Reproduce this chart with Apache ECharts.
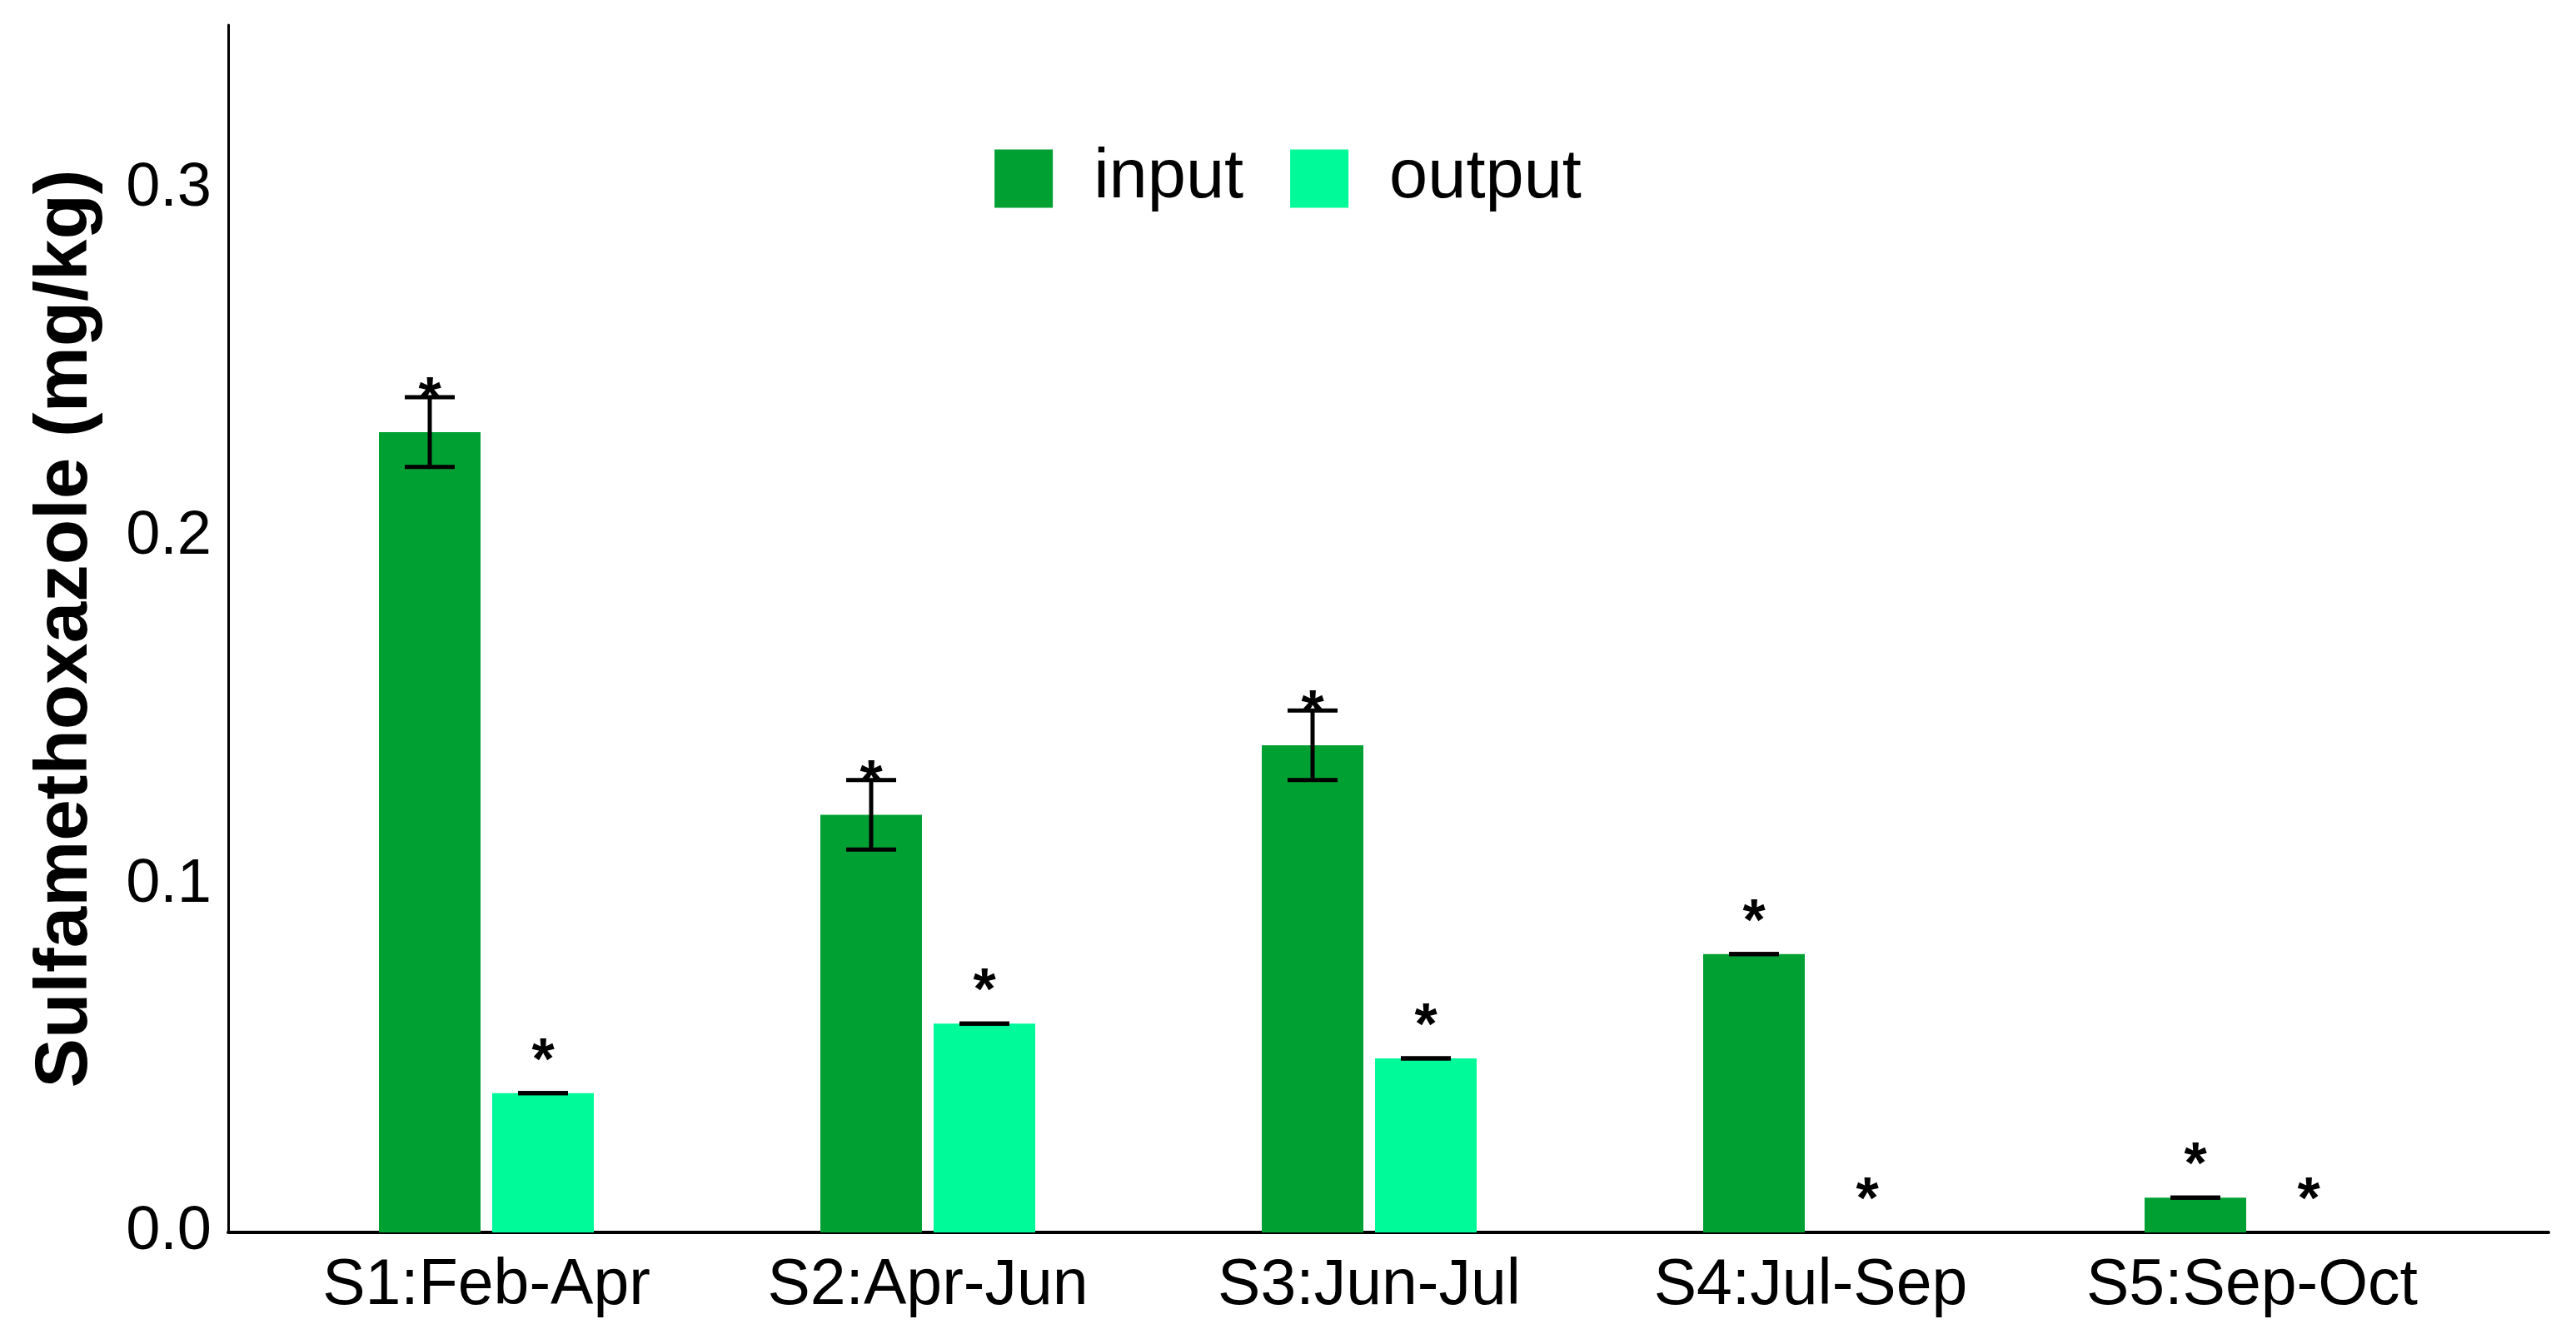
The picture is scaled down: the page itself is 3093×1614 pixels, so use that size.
<!DOCTYPE html>
<html><head><meta charset="utf-8">
<script src="https://cdn.jsdelivr.net/npm/echarts@6/dist/echarts.min.js"></script>
<style>html,body{margin:0;padding:0;background:#fff}#c{width:3093px;height:1614px}</style>
</head><body><div id="c"></div>
<script>
const categories = ['S1:Feb-Apr','S2:Apr-Jun','S3:Jun-Jul','S4:Jul-Sep','S5:Sep-Oct'];
const inputVals = [0.23, 0.12, 0.14, 0.08, 0.01];
const inputErr = [0.01, 0.01, 0.01, 0, 0];
const outputVals = [0.04, 0.06, 0.05, 0, 0];
const outputErr = [0, 0, 0, 0, 0];
const yTicks = [0, 0.1, 0.2, 0.3];
const starOffset = 0.012;

const BW = 122, GAP = 14;
function errSeries(vals, errs, side) {
  return {
    type: 'custom', xAxisIndex: 0, yAxisIndex: 0, z: 10,
    data: vals.map((v, i) => [i, v, errs[i]]),
    renderItem: function (params, api) {
      const i = api.value(0), v = api.value(1), e = api.value(2);
      const c = api.coord([i, v]);
      const x = c[0] + side * (BW + GAP) / 2;
      const hi = api.coord([i, v + e])[1], lo = api.coord([i, v - e])[1];
      const sy = api.coord([i, v + starOffset])[1];
      const cw = 30;
      const st = {stroke: '#000', lineWidth: 5};
      const ch = [];
      if (v > 0) {
        ch.push({type: 'line', shape: {x1: x, y1: hi, x2: x, y2: lo}, style: st});
        ch.push({type: 'line', shape: {x1: x - cw, y1: hi, x2: x + cw, y2: hi}, style: st});
        ch.push({type: 'line', shape: {x1: x - cw, y1: lo, x2: x + cw, y2: lo}, style: st});
      }
      ch.push({type: 'text', style: {x: x, y: sy + 14, text: '*', fill: '#000',
        font: 'bold 70px "Liberation Sans", Arial', align: 'center', verticalAlign: 'middle'}});
      return {type: 'group', children: ch};
    }
  };
}

const chart = echarts.init(document.getElementById('c'));
chart.setOption({
  animation: false,
  textStyle: {fontFamily: '"Liberation Sans", Arial'},
  legend: {
    top: 168, left: 'center', itemWidth: 70, itemHeight: 70, itemGap: 56,
    icon: 'rect',
    textStyle: {fontSize: 83, color: '#000', padding: [0, 0, 0, 44]},
    data: ['input', 'output']
  },
  grid: [
    {left: 319, right: 124, top: 30, bottom: 134},
    {left: 274, right: 33, top: 30, bottom: 134}
  ],
  xAxis: [
    {type: 'category', gridIndex: 0, data: categories,
      axisLine: {show: false}, axisTick: {show: false},
      axisLabel: {fontSize: 77, color: '#000', margin: 26}},
    {type: 'value', gridIndex: 1, min: 0, max: 1, axisLabel: {show: false},
      axisTick: {show: false}, splitLine: {show: false},
      axisLine: {show: true, lineStyle: {color: '#000', width: 4}}}
  ],
  yAxis: [
    {type: 'value', gridIndex: 0, min: 0, max: 0.347, interval: 0.1, show: false, splitLine: {show: false}},
    {type: 'value', gridIndex: 1, min: 0, max: 0.347, interval: 0.1,
      name: 'Sulfamethoxazole (mg/kg)', nameLocation: 'middle', nameGap: 150,
      nameTextStyle: {fontSize: 89, fontWeight: 'bold', color: '#000'},
      axisLine: {show: true, lineStyle: {color: '#000', width: 3}},
      axisTick: {show: false}, splitLine: {show: false},
      axisLabel: {fontSize: 74, color: '#000', margin: 20, showMaxLabel: false,
        formatter: v => yTicks.some(t => Math.abs(t - v) < 1e-9) ? v.toFixed(1) : ''}}
  ],
  series: [
    {name: 'input', type: 'bar', data: inputVals, barWidth: BW, barGap: (GAP / BW * 100) + '%',
      itemStyle: {color: '#00A033'}},
    {name: 'output', type: 'bar', data: outputVals, barWidth: BW,
      itemStyle: {color: '#00FA9A'}},
    errSeries(inputVals, inputErr, -1),
    errSeries(outputVals, outputErr, 1)
  ]
});
</script></body></html>
